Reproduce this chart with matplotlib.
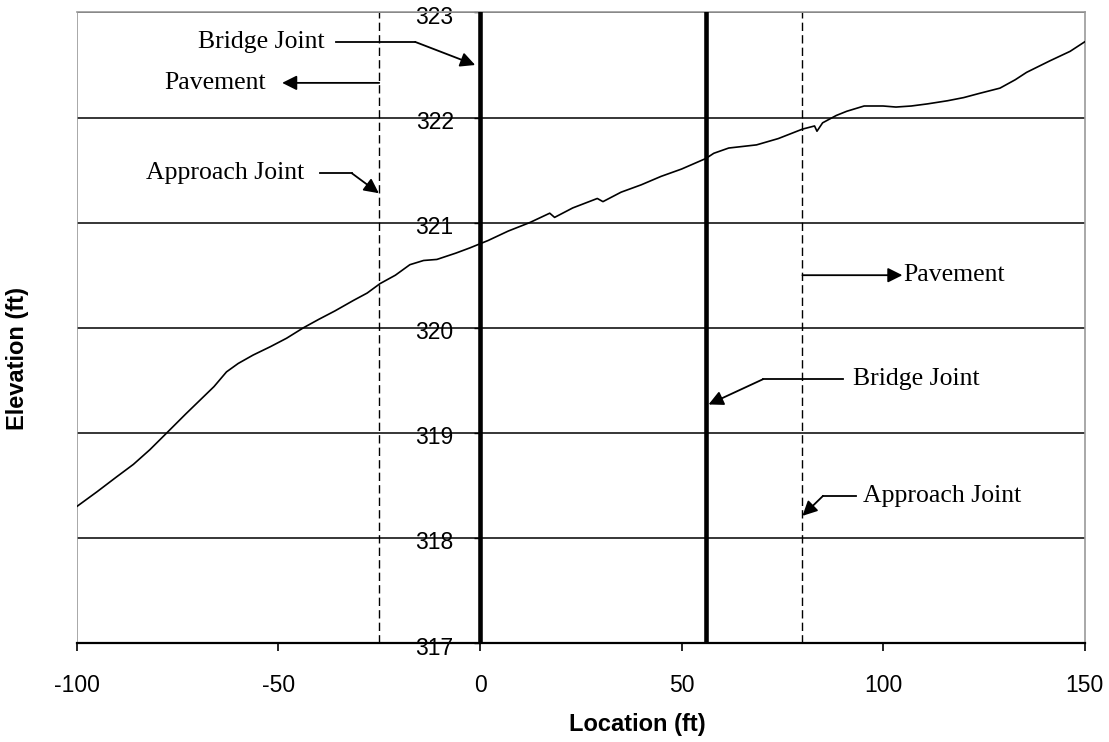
import numpy as np
import matplotlib
matplotlib.use("Agg")
from matplotlib import pyplot as plt
from matplotlib.transforms import ScaledTranslation

# profile
loc = [-100, -95, -90.2, -86, -81.9, -77.7, -73, -69.5, -66, -62.9, -60, -56.3, -52,
       -48, -43.8, -40, -36, -31.4, -28, -24.8, -21, -17.4, -14, -10.7, -6, -2.5,
       2, 7, 12.3, 17.3, 18.5, 23, 29.1, 30.5, 35, 40, 44.9, 50, 56, 58,
       61.7, 68.6, 74, 80, 83, 83.6, 85, 88.4, 91, 95.3, 100, 103.2, 107,
       111, 116, 120, 123.9, 129, 132.8, 135.6, 141.4, 146.4, 150]
elev = [318.30, 318.44, 318.58, 318.70, 318.84, 319.00, 319.18, 319.31, 319.44,
        319.58, 319.66, 319.74, 319.82, 319.90, 320.00, 320.08, 320.16, 320.26,
        320.33, 320.42, 320.50, 320.60, 320.64, 320.65, 320.71, 320.76,
        320.83, 320.92, 321.00, 321.09, 321.05, 321.14, 321.23, 321.20, 321.29,
        321.36, 321.44, 321.51, 321.61, 321.66, 321.71, 321.74, 321.80, 321.89,
        321.92, 321.87, 321.95, 322.02, 322.06, 322.11, 322.11, 322.10, 322.11,
        322.13, 322.16, 322.19, 322.23, 322.28, 322.36, 322.43, 322.54, 322.63, 322.72]

bridge_joints = [0, 56]
approach_joints = [-25, 80]
yticks = [317, 318, 319, 320, 321, 322, 323]
xticks = [-100, -50, 0, 50, 100, 150]

plt.rcParams['font.family'] = ['Liberation Sans', 'DejaVu Sans']
serif = ['Liberation Serif', 'DejaVu Serif']

fig = plt.figure(figsize=(11.09, 7.42), dpi=100)
ax = fig.add_axes([0.0694, 0.1334, 0.9086, 0.8498])
ax.set_xlim(-100, 150)
ax.set_ylim(317, 323)

for y in yticks[1:]:
    ax.axhline(y, color='black', lw=1.1, zorder=1)

for x in approach_joints:
    ax.axvline(x, color='black', lw=1.0, dashes=(6, 3), zorder=2)
for x in bridge_joints:
    ax.axvline(x, color='black', lw=3.3, zorder=3)

ax.plot(loc, elev, color='black', lw=1.2, zorder=4)

# spines: y axis through x=0, grey frame elsewhere
ax.spines['left'].set_position(('data', 0))
ax.spines['left'].set_color('black')
ax.spines['bottom'].set_linewidth(1.6)
for s in ['top', 'right']:
    ax.spines[s].set_color('#999999')
    ax.spines[s].set_linewidth(1.2)
ax.add_line(plt.Line2D([-100, -100], [317, 323], color='#999999', lw=1.2))

ax.set_xticks(xticks)
ax.set_xticklabels([str(v) for v in xticks])
ax.set_yticks(yticks)
ax.set_yticklabels([str(v) for v in yticks])
ax.tick_params(axis='x', direction='out', length=6, width=1.2, labelsize=16.5, pad=16)
ax.tick_params(axis='y', direction='out', length=4, width=1.0, labelsize=16.5, pad=15)
for lab in ax.get_yticklabels():
    lab.set_transform(lab.get_transform() + ScaledTranslation(0, -1.8 / 72, fig.dpi_scale_trans))

fig.text(0.0162, 0.517, 'Elevation (ft)', rotation=90, ha='center', va='center',
         fontsize=17, fontweight='bold')
fig.text(0.575, 0.024, 'Location (ft)', ha='center', va='center',
         fontsize=17, fontweight='bold')

arrow = dict(arrowstyle='-|>', color='black', lw=1.3, mutation_scale=22,
             shrinkA=0, shrinkB=0)
fs = 18.5

# left side annotations
ax.text(-38.5, 322.72, 'Bridge Joint', ha='right', va='center', fontsize=fs, family=serif)
ax.plot([-35.7, -16.1], [322.72, 322.72], color='black', lw=1.3)
ax.annotate('', xy=(-1.2, 322.50), xytext=(-16.1, 322.72), arrowprops=arrow)

ax.text(-53.2, 322.33, 'Pavement', ha='right', va='center', fontsize=fs, family=serif)
ax.annotate('', xy=(-49.1, 322.33), xytext=(-25, 322.33), arrowprops=arrow)

ax.text(-43.6, 321.47, 'Approach Joint', ha='right', va='center', fontsize=fs, family=serif)
ax.plot([-39.7, -31.8], [321.47, 321.47], color='black', lw=1.3)
ax.annotate('', xy=(-25.1, 321.28), xytext=(-31.8, 321.47), arrowprops=arrow)

# right side annotations
ax.annotate('', xy=(104.8, 320.50), xytext=(80, 320.50), arrowprops=arrow)
ax.text(105.0, 320.50, 'Pavement', ha='left', va='center', fontsize=fs, family=serif)

ax.text(92.6, 319.51, 'Bridge Joint', ha='left', va='center', fontsize=fs, family=serif)
ax.plot([90.1, 70.2], [319.51, 319.51], color='black', lw=1.3)
ax.annotate('', xy=(56.7, 319.27), xytext=(70.2, 319.51), arrowprops=arrow)

ax.text(95.0, 318.40, 'Approach Joint', ha='left', va='center', fontsize=fs, family=serif)
ax.plot([93.3, 85.1], [318.40, 318.40], color='black', lw=1.3)
ax.annotate('', xy=(80.0, 318.21), xytext=(85.1, 318.40), arrowprops=arrow)

fig.savefig('out.png', dpi=100)
